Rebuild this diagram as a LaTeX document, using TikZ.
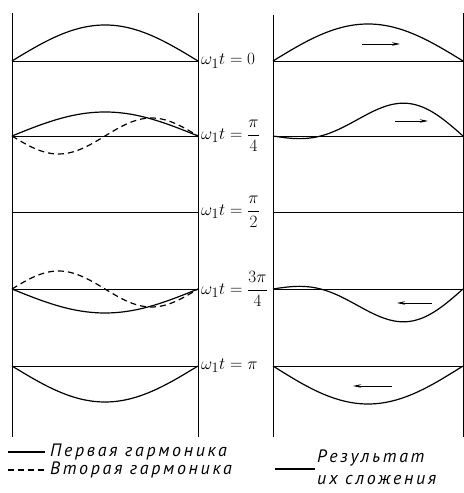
\documentclass[tikz,border=0pt]{standalone}
\usepackage{amsmath}
\usepackage{fontspec}
\setmainfont{PT Sans}
\newfontfamily\legendfont{PT Sans}[LetterSpace=15]
\usetikzlibrary{arrows.meta}

\begin{document}
\begin{tikzpicture}[x=1bp, y=1bp,
        wall/.style={line width=0.8bp},
        axisline/.style={line width=0.7bp},
        first/.style={line width=1.2bp},
        second/.style={line width=1.2bp, dash pattern=on 6bp off 4bp},
        motion/.style={line width=0.8bp, -{Stealth[length=8bp, width=3.5bp]}},
        phase/.style={anchor=west, inner sep=0pt, font=\fontsize{19}{22}\selectfont},
        legend/.style={anchor=west, inner sep=0pt, font=\fontsize{18}{20}\legendfont\itshape},
    ]
    \useasboundingbox (0,0) rectangle (464,493);

    % string ends
    \draw[wall] (12,480) -- (12,56);
    \draw[wall] (198,480) -- (198,56);
    \draw[wall] (273,478) -- (273,56);
    \draw[wall] (463,480) -- (463,56);
    \foreach \yb in {432,357,281,204,127} {
        \draw[axisline] (12,\yb) -- (198,\yb);
        \draw[axisline] (273,\yb) -- (463,\yb);
    }

    % omega t = 0
    \draw[first] plot[domain=0:1, samples=60] ({12+186*\x}, {432+36*sin(180*\x)});
    \draw[first] plot[domain=0:1, samples=60] ({273+190*\x}, {432+37*sin(180*\x)});
    % omega t = pi/4
    \draw[first] plot[domain=0:1, samples=60] ({12+186*\x}, {357+24*sin(180*\x)});
    \draw[second] plot[domain=0:1, samples=60] ({12+186*\x}, {357-18*sin(360*\x)});
    \draw[first] plot[domain=0:1, samples=80] ({273+190*\x}, {357+0.92*(24*sin(180*\x)-17*sin(360*\x))});
    % omega t = 3pi/4
    \draw[first] plot[domain=0:1, samples=60] ({12+186*\x}, {204-24*sin(180*\x)});
    \draw[second] plot[domain=0:1, samples=60] ({12+186*\x}, {204+18*sin(360*\x)});
    \draw[first] plot[domain=0:1, samples=80] ({273+190*\x}, {204+0.92*(-24*sin(180*\x)+17*sin(360*\x))});
    % omega t = pi
    \draw[first] plot[domain=0:1, samples=60] ({12+186*\x}, {127-36*sin(180*\x)});
    \draw[first] plot[domain=0:1, samples=60] ({273+190*\x}, {127-38*sin(180*\x)});

    % direction of motion
    \coordinate (m0a) at (362,449); \coordinate (m0b) at (400,449);
    \coordinate (m1a) at (395,372); \coordinate (m1b) at (428,372);
    \coordinate (m3a) at (432,190); \coordinate (m3b) at (397,190);
    \coordinate (m4a) at (392,107); \coordinate (m4b) at (353,107);
    \draw[motion] (m0a) -- (m0b);
    \draw[motion] (m1a) -- (m1b);
    \draw[motion] (m3a) -- (m3b);
    \draw[motion] (m4a) -- (m4b);

    % phases
    \node[phase] (ph0) at (201,432) {$\omega_1 t=0$};
    \node[phase] (ph1) at (201,357) {$\omega_1 t=\dfrac{\pi}{4}$};
    \node[phase] (ph2) at (201,281) {$\omega_1 t=\dfrac{\pi}{2}$};
    \node[phase] (ph3) at (201,204) {$\omega_1 t=\dfrac{3\pi}{4}$};
    \node[phase] (ph4) at (201,127) {$\omega_1 t=\pi$};

    % legend
    \coordinate (k1a) at (8,41);  \coordinate (k1b) at (45,41);
    \coordinate (k2a) at (8,23);  \coordinate (k2b) at (45,23);
    \coordinate (k3a) at (275,24); \coordinate (k3b) at (315,24);
    \draw[first] (k1a) -- (k1b);
    \draw[second] (k2a) -- (k2b);
    \draw[first] (k3a) -- (k3b);
    \node[legend] (first) at (50,41) {Первая гармоника};
    \node[legend] (second) at (50,23) {Вторая гармоника};
    \node[legend] (sum1) at (317,35) {Результат};
    \node[legend] (sum2) at (317,13) {их сложения};
\end{tikzpicture}
\end{document}
